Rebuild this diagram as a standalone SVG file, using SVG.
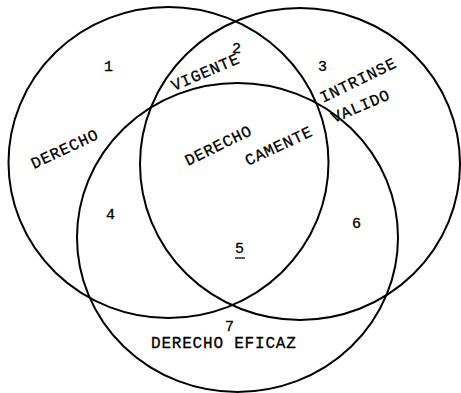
<svg xmlns="http://www.w3.org/2000/svg" width="461" height="393" viewBox="0 0 461 393">
<style>
.c{fill:none;stroke:#000;stroke-width:2}
.t{font-family:"Liberation Mono","Courier New",monospace;font-size:16px;letter-spacing:0.8px;fill:#000;stroke:#000;stroke-width:0.3}
.n{font-family:"Liberation Mono","Courier New",monospace;font-size:15px;fill:#000;stroke:#000;stroke-width:0.3}
</style>
<rect width="461" height="393" fill="#fff"/>
<g id="connectors"></g>
<g id="derecho-vigente">
<ellipse class="c" cx="168.5" cy="162.5" rx="160" ry="155.5"/>
</g>
<g id="derecho-valido">
<ellipse class="c" cx="300" cy="164" rx="160" ry="156"/>
</g>
<g id="derecho-eficaz">
<ellipse class="c" cx="237.5" cy="237.5" rx="160.5" ry="154.5"/>
</g>
<g id="labels">
<text class="n" x="104" y="71">1</text>
<text class="n" x="232" y="53">2</text>
<text class="n" x="318" y="71">3</text>
<text class="n" x="106" y="219">4</text>
<text class="n" x="235" y="253">5</text>
<line x1="235" y1="258" x2="245" y2="258" stroke="#000" stroke-width="1.3"/>
<text class="n" x="352" y="228">6</text>
<text class="n" x="225" y="331">7</text>
<text class="t" transform="translate(34,169) rotate(-25)">DERECHO</text>
<text class="t" transform="translate(174,91) rotate(-23)">VIGENTE</text>
<text class="t" transform="translate(188,166) rotate(-26)">DERECHO</text>
<text class="t" transform="translate(248,166) rotate(-25)">CAMENTE</text>
<text class="t" transform="translate(323,103) rotate(-26)">INTRINSE</text>
<text class="t" transform="translate(334,123) rotate(-23)">VALIDO</text>
<text class="t" x="151" y="348">DERECHO EFICAZ</text>
</g>
</svg>
